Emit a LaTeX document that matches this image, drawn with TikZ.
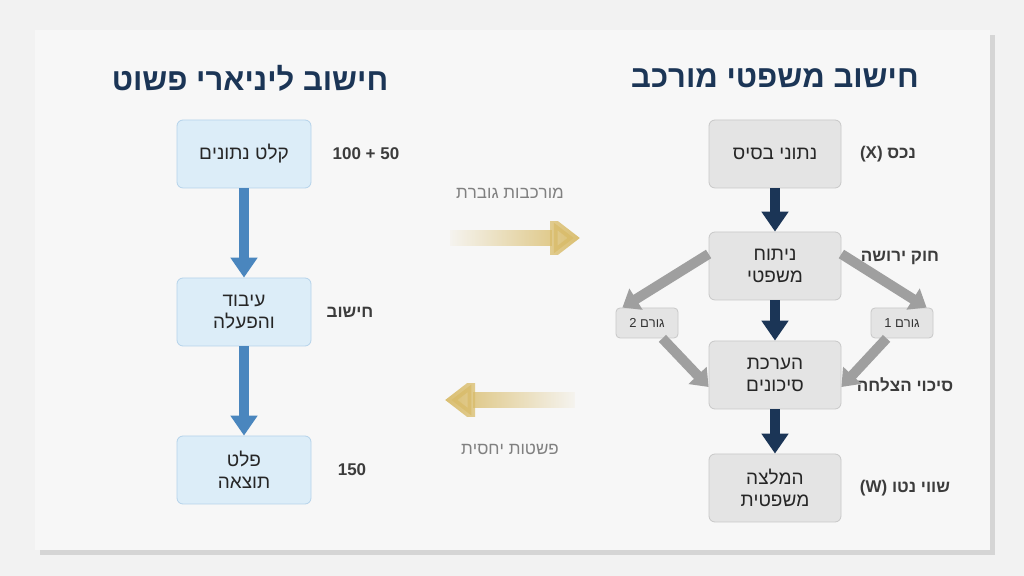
\documentclass[tikz,border=0pt]{standalone}
\usepackage{fontspec}
\setmainfont{Liberation Sans}
\usetikzlibrary{arrows.meta,fadings,shadows}
\TeXXeTstate=1
\newcommand{\heb}[1]{\beginR #1\endR}
\definecolor{navy}{HTML}{1B3556}
\definecolor{steel}{HTML}{4A86BE}
\definecolor{goldc}{HTML}{D9BC6A}
\definecolor{lbox}{HTML}{DCEDF8}
\definecolor{lline}{HTML}{B5D3EA}
\definecolor{gbox}{HTML}{E4E4E4}
\definecolor{gline}{HTML}{C8C8C8}
\definecolor{lbl}{HTML}{3C3C3C}
\tikzset{
  lstep/.style={draw=lline,fill=lbox,rounded corners=3pt,minimum width=67pt,minimum height=34pt,align=center,font=\fontsize{9.5}{11}\selectfont,text=black!85},
  rstep/.style={draw=gline,fill=gbox,rounded corners=3pt,minimum width=66pt,minimum height=34pt,align=center,font=\fontsize{9.5}{11}\selectfont,text=black!85},
  fact/.style={draw=gline,fill=gbox,rounded corners=2pt,minimum width=31pt,minimum height=15pt,font=\fontsize{6.5}{8}\selectfont,text=black!80},
  note/.style={font=\bfseries\fontsize{8.5}{10}\selectfont,text=lbl},
  head/.style={font=\bfseries\fontsize{15.5}{18}\selectfont,text=navy},
  flow/.style={line width=5pt,-{Triangle[width=13pt,length=10pt]}},
  side/.style={line width=5pt,gray!75,-{Triangle[width=12pt,length=8pt]}},
  trend/.style={line width=8pt,goldc,-{Triangle[width=22pt,length=15pt]}}
}
\begin{document}
\begin{tikzpicture}[x=0.5pt,y=-0.5pt]
\fill[black!5] (0,0) rectangle (1024,576);
\fill[white!97!black,drop shadow={opacity=0.25}] (35,30) rectangle (990,550);
% titles
\node[head] (lhead) at (250,78) {\heb{חישוב ליניארי פשוט}};
\node[head] (rhead) at (775,78) {\heb{חישוב משפטי מורכב}};
% left column
\node[lstep] (in) at (244,154) {\heb{קלט נתונים}};
\node[lstep] (proc) at (244,312) {\heb{עיבוד}\\\heb{והפעלה}};
\node[lstep] (out) at (244,470) {\heb{פלט}\\\heb{תוצאה}};
\draw[flow,steel] (in) -- (proc);
\draw[flow,steel] (proc) -- (out);
\node[note] (nin) at (366,154) {100 + 50};
\node[note] (nproc) at (350,312) {\heb{חישוב}};
\node[note] (nout) at (352,470) {150};
% right column
\node[rstep] (base) at (775,154) {\heb{נתוני בסיס}};
\node[rstep] (law) at (775,266) {\heb{ניתוח}\\\heb{משפטי}};
\node[rstep] (risk) at (775,375) {\heb{הערכת}\\\heb{סיכונים}};
\node[rstep] (rec) at (775,488) {\heb{המלצה}\\\heb{משפטית}};
\draw[flow,navy] (base) -- (law);
\draw[flow,navy] (law) -- (risk);
\draw[flow,navy] (risk) -- (rec);
\node[note] (nbase) at (888,154) {(X) \heb{נכס}};
\node[note] (nlaw) at (900,258) {\heb{חוק ירושה}};
\node[note] (nrisk) at (905,385) {\heb{סיכוי הצלחה}};
\node[note] (nrec) at (905,488) {(W) \heb{שווי נטו}};
\node[fact] (f2) at (647,323) {\heb{גורם 2}};
\node[fact] (f1) at (902,323) {\heb{גורם 1}};
\draw[side] ([yshift=6]law.west) -- ([xshift=-28]f2.north east);
\draw[side] ([yshift=6]law.east) -- ([xshift=28]f1.north west);
\draw[side] ([xshift=-8]f2.south east) -- ([yshift=-6]risk.west);
\draw[side] ([xshift=8]f1.south west) -- ([yshift=-6]risk.east);
% middle
\node[font=\fontsize{8.5}{10}\selectfont,text=gray] (more) at (510,193) {\heb{מורכבות גוברת}};
\node[font=\fontsize{8.5}{10}\selectfont,text=gray] (less) at (510,449) {\heb{פשטות יחסית}};
\coordinate (ga) at (450,238);
\coordinate (gb) at (580,238);
\coordinate (gc) at (575,400);
\coordinate (gd) at (445,400);
\draw[trend,path fading=west] (ga) -- (gb);
\draw[trend,path fading=east] (gc) -- (gd);
\end{tikzpicture}
\end{document}
